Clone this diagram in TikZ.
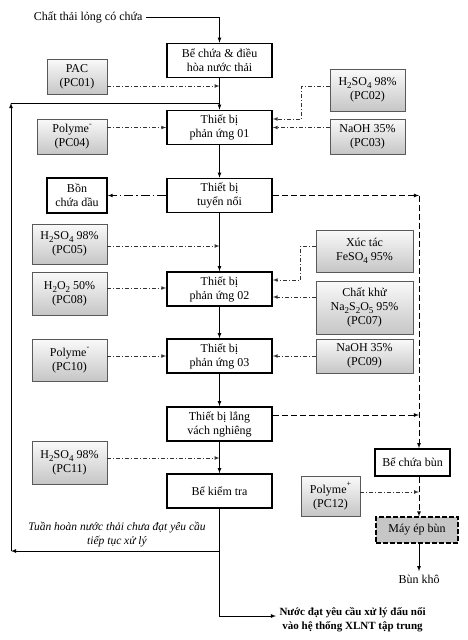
\documentclass[tikz,border=0pt]{standalone}
\usepackage{fontspec}
\setmainfont{Liberation Serif}
\usetikzlibrary{shadows}

\newcommand{\lowsub}[1]{\raisebox{-0.55ex}{\fontsize{9}{9}\selectfont #1}}
\newcommand{\upsup}[1]{\raisebox{1.2ex}{\fontsize{8}{8}\selectfont #1}}

\tikzset{
	process/.style={draw, rectangle, line width=1.6pt, fill=white,
		minimum width=105, minimum height=34, inner sep=0pt, align=center},
	chemical/.style={draw=black!65, rectangle, line width=0.6pt,
		top color=gray!4, bottom color=gray!45, inner sep=0pt, align=center,
		drop shadow={shadow xshift=1.2pt, shadow yshift=-1.2pt, opacity=0.35}},
	flow/.style={->, >=latex, line width=0.8pt},
	dose/.style={->, >=latex, line width=0.7pt, black!80,
		dash pattern=on 4pt off 2pt on 1pt off 2pt},
	oilline/.style={->, >=latex, line width=0.7pt,
		dash pattern=on 9pt off 3pt on 1.5pt off 3pt},
	sludge/.style={->, >=latex, line width=0.8pt, dash pattern=on 6pt off 3pt}
}

\begin{document}
\begin{tikzpicture}[x=1pt, y=-1pt, font=\fontsize{12}{14}\selectfont]
	\def \mainx {219.5}
	\def \sludgex {419}

	\useasboundingbox (0,0) rectangle (467,640);

	\node[anchor=east] (inp) at (146,17) {Chất thải lỏng có chứa};

	\node[process] (bechua)   at (\mainx,60.5)  {Bể chứa \& điều\\hòa nước thải};
	\node[process] (pu01)     at (\mainx,127.5) {Thiết bị\\phản ứng 01};
	\node[process] (tuyennoi) at (\mainx,195.5) {Thiết bị\\tuyển nổi};
	\node[process] (pu02)     at (\mainx,289)   {Thiết bị\\phản ứng 02};
	\node[process] (pu03)     at (\mainx,356)   {Thiết bị\\phản ứng 03};
	\node[process] (lang)     at (\mainx,424)   {Thiết bị lắng\\vách nghiêng};
	\node[process] (kiemtra)  at (\mainx,491)   {Bể kiểm tra};

	\node[process, minimum width=60, minimum height=35] (bondau) at (77,195.5)
		{Bồn\\chứa dầu};
	\node[process, minimum width=75, minimum height=27] (bechuabun) at (412.5,462.5)
		{Bể chứa bùn};
	\node[draw, rectangle, line width=1.1pt, dash pattern=on 5pt off 2pt,
		fill=gray!45, minimum width=82, minimum height=26] (mayep) at (417,530)
		{Máy ép bùn};
	\node (bunkho) at (\sludgex,579) {Bùn khô};

	\node[chemical, minimum width=60, minimum height=35] (pc01) at (77,76.5)
		{PAC\\(PC01)};
	\node[chemical, minimum width=70, minimum height=35] (pc04) at (72,136.5)
		{Polyme\upsup{-}\\(PC04)};
	\node[chemical, minimum width=75, minimum height=42] (pc02) at (367.5,90)
		{H\lowsub{2}SO\lowsub{4} 98\%\\(PC02)};
	\node[chemical, minimum width=75, minimum height=35] (pc03) at (367.5,136.5)
		{NaOH 35\%\\(PC03)};
	\node[chemical, minimum width=75, minimum height=40] (pc05) at (69.5,244)
		{H\lowsub{2}SO\lowsub{4} 98\%\\(PC05)};
	\node[chemical, minimum width=75, minimum height=43] (pc08) at (69.5,293.5)
		{H\lowsub{2}O\lowsub{2} 50\%\\(PC08)};
	\node[chemical, minimum width=97, minimum height=42] (pc06) at (364.5,251)
		{Xúc tác\\FeSO\lowsub{4} 95\%};
	\node[chemical, minimum width=97, minimum height=53] (pc07) at (364.5,307.5)
		{Chất khử\\Na\lowsub{2}S\lowsub{2}O\lowsub{5} 95\%\\(PC07)};
	\node[chemical, minimum width=75, minimum height=42] (pc10) at (69.5,360)
		{Polyme\upsup{-}\\(PC10)};
	\node[chemical, minimum width=97, minimum height=34] (pc09) at (364.5,356)
		{NaOH 35\%\\(PC09)};
	\node[chemical, minimum width=75, minimum height=43] (pc11) at (69.5,462.5)
		{H\lowsub{2}SO\lowsub{4} 98\%\\(PC11)};
	\node[chemical, minimum width=59, minimum height=40] (pc12) at (330.5,496)
		{Polyme\upsup{+}\\(PC12)};

	\node[font=\fontsize{11.5}{14}\selectfont\itshape, align=center] (recnote) at (117,534.5)
		{Tuần hoàn nước thải chưa đạt yêu cầu\\tiếp tục xử lý};
	\node[font=\fontsize{11}{14}\selectfont\bfseries, align=center, anchor=west] (out)
		at (276,620) {Nước đạt yêu cầu xử lý đấu nối\\vào hệ thống XLNT tập trung};

	\coordinate (j1) at (\mainx,86);
	\coordinate (j2) at (\mainx,103);
	\coordinate (j3) at (\mainx,246);
	\coordinate (j4) at (\mainx,458);
	\coordinate (r1) at (\mainx,551);
	\coordinate (r2) at (11,551);
	\coordinate (r3) at (11,103);
	\coordinate (e1) at (\mainx,616);
	\coordinate (s1) at (\sludgex,195.5);
	\coordinate (s3) at (\sludgex,492);

	\draw[flow] (inp.east) -| (bechua.north);
	\draw[flow] (bechua.south) -- (pu01.north);
	\draw[flow] (pu01.south) -- (tuyennoi.north);
	\draw[flow] (tuyennoi.south) -- (pu02.north);
	\draw[flow] (pu02.south) -- (pu03.north);
	\draw[flow] (pu03.south) -- (lang.north);
	\draw[flow] (lang.south) -- (kiemtra.north);
	\draw[flow] (kiemtra.south) |- (out.west |- e1);

	\draw[flow] (r1) -- (r2);
	\draw[flow] (r2) -- (r3);
	\draw[line width=0.8pt] (r3) -- (j2);

	\draw[dose] (pc01.east |- j1) -- (j1);
	\draw[dose] (pc04.east |- pu01.west) -- (pu01.west);
	\draw[dose] (pc02.west |- 0,86) -- ++(-28,0) |- (pu01.east |- 0,119);
	\draw[dose] (pc03.west |- pu01.east) -- (pu01.east);
	\draw[oilline] (tuyennoi.west) -- (bondau.east);
	\draw[dose] (pc05.east |- j3) -- (j3);
	\draw[dose] (pc08.east |- 0,288) -- (pu02.west |- 0,288);
	\draw[dose] (pc06.west |- 0,246) -- ++(-15,0) |- (pu02.east |- 0,280);
	\draw[dose] (pc07.west |- 0,297) -- (pu02.east |- 0,297);
	\draw[dose] (pc10.east |- pu03.west) -- (pu03.west);
	\draw[dose] (pc09.west |- pu03.east) -- (pu03.east);
	\draw[dose] (pc11.east |- j4) -- (j4);
	\draw[dose] (pc12.east |- s3) -- (s3);

	\draw[sludge] (tuyennoi.east) -- (s1);
	\draw[sludge] (s1) -- (s1 |- bechuabun.north);
	\draw[sludge] (lang.east |- 0,415) -- (s1 |- 0,415);
	\draw[sludge] (s1 |- bechuabun.south) -- (s1 |- mayep.north);
	\draw[flow] (s1 |- mayep.south) -- (bunkho.north);
\end{tikzpicture}
\end{document}
